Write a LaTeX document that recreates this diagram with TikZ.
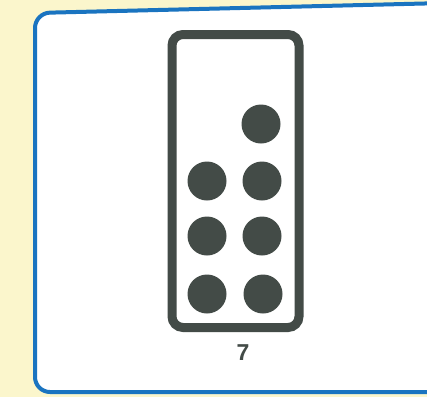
\documentclass[tikz,border=0pt]{standalone}
\usepackage{fontspec}
\setmainfont{Liberation Sans}
\usepackage{tikz}
\usetikzlibrary{positioning,calc}
\definecolor{cardYellow}{HTML}{FBF6CC}
\definecolor{cardBlue}{HTML}{1A74C0}
\definecolor{dotGrey}{HTML}{434B47}
\tikzset{
  dot/.style={circle, fill=dotGrey, minimum size=39pt, inner sep=0pt},
  frame/.style={draw=dotGrey, line width=9pt, rounded corners=11pt, minimum width=127pt, minimum height=293pt, inner sep=0pt}
}

\begin{document}
\begin{tikzpicture}[x=1pt, y=-1pt]
\useasboundingbox (0,0) rectangle (427,397);
% ---------- background and card ----------
\fill[cardYellow] (0,0) rectangle (427,397);
\fill[white, draw=cardBlue, line width=4pt, rounded corners=15pt]
  (35,392) -- (35,13) -- (445,3) -- (445,392) -- cycle;
% ---------- frame with seven dots ----------
\node[frame] (fr) at (235.5,181) {};
\node[dot] (r1) at (261,124) {};
\node[dot] (l2) at (207,181) {};
\node[dot] (r2) at (262,181) {};
\node[dot] (l3) at (207,236) {};
\node[dot] (r3) at (262,236) {};
\node[dot] (l4) at (207,294) {};
\node[dot] (r4) at (263,294) {};
\node[font=\fontsize{23}{27}\selectfont\bfseries, text=dotGrey, below=9pt of fr, xshift=7.5pt] (num) {7};
\end{tikzpicture}
\end{document}
